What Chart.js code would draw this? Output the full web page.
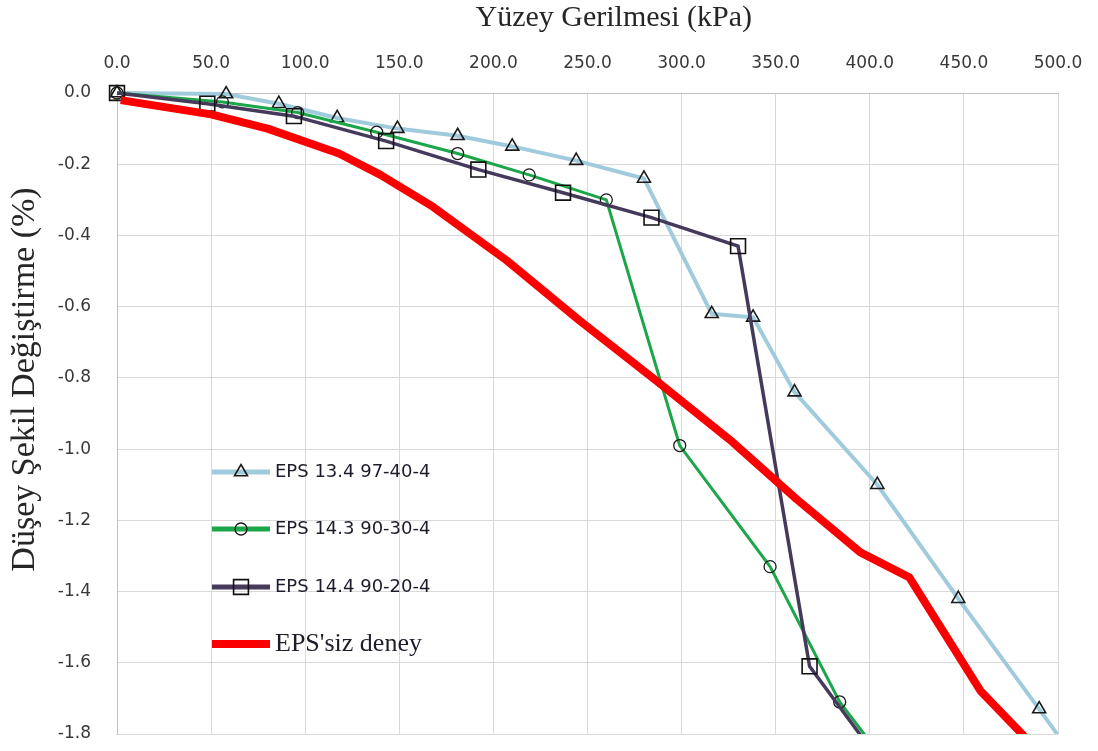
<!DOCTYPE html>
<html>
<head>
<meta charset="utf-8">
<script src="https://cdn.jsdelivr.net/npm/chart.js"></script>
<style>
  html, body { margin: 0; padding: 0; background: #fff; }
</style>
</head>
<body>
<canvas id="myChart" width="1098" height="751"></canvas>
<script>
// Yüzey gerilmesi (kPa) vs. düşey şekil değiştirme (%)

const xTitle = 'Yüzey Gerilmesi (kPa)';
const yTitle = 'Düşey Şekil Değiştirme (%)';

const seriesNames = ['EPS 13.4 97-40-4', 'EPS 14.3 90-30-4', 'EPS 14.4 90-20-4', "EPS'siz deney"];

// EPS 13.4 97-40-4 (triangles)
const triStress = [0, 58, 86, 117, 149, 181, 210, 244, 280, 316, 338, 360, 404, 447, 490, 505];
const triStrain = [0, -0.003, -0.03, -0.07, -0.10, -0.12, -0.15, -0.19, -0.24, -0.62, -0.63, -0.84, -1.10, -1.42, -1.73, -1.84];

// EPS 14.3 90-30-4 (circles)
const circStress = [0, 56, 96, 138, 181, 219, 260, 299, 347, 384, 420];
const circStrain = [0, -0.025, -0.055, -0.11, -0.17, -0.23, -0.30, -0.99, -1.33, -1.71, -1.96];

// EPS 14.4 90-20-4 (squares)
const sqStress = [0, 48, 94, 143, 192, 237, 284, 330, 368, 410];
const sqStrain = [0, -0.03, -0.065, -0.135, -0.215, -0.28, -0.35, -0.43, -1.61, -1.91];

// EPS'siz deney (no markers)
const refStress = [2, 50, 80, 118, 140, 168, 207, 246, 287, 327, 361, 395, 421, 459, 490];
const refStrain = [-0.02, -0.06, -0.10, -0.17, -0.23, -0.32, -0.47, -0.64, -0.81, -0.98, -1.14, -1.29, -1.36, -1.68, -1.85];

const pairs = (xs, ys) => xs.map((x, i) => ({ x: x, y: ys[i] }));

const sansFont = "'DejaVu Sans', sans-serif";
const serifFont = "'Liberation Serif', 'Times New Roman', serif";

// legend drawn inside the plot, on the left
const legendInside = {
  id: 'legendInside',
  afterDatasetsDraw: (chart) => {
    const ctx = chart.ctx;
    const lineX0 = 212, lineX1 = 270, textX = 275;
    const rowsY = [472, 529, 587, 644];
    chart.data.datasets.forEach((ds, i) => {
      const y = rowsY[i];
      ctx.save();
      ctx.strokeStyle = ds.borderColor;
      ctx.lineWidth = ds.legendLineWidth;
      ctx.lineCap = 'butt';
      ctx.beginPath();
      ctx.moveTo(lineX0, y);
      ctx.lineTo(lineX1, y);
      ctx.stroke();

      if (ds.pointRadius > 0 && Chart.helpers && Chart.helpers.drawPoint) {
        ctx.fillStyle = 'rgba(0,0,0,0)';
        ctx.strokeStyle = ds.pointBorderColor;
        ctx.lineWidth = ds.pointBorderWidth;
        Chart.helpers.drawPoint(ctx, {
          pointStyle: ds.pointStyle,
          radius: ds.pointRadius,
          borderWidth: ds.pointBorderWidth,
          rotation: 0
        }, (lineX0 + lineX1) / 2, y);
      }

      ctx.font = ds.legendFont;
      ctx.fillStyle = '#1e1b2b';
      ctx.textBaseline = 'middle';
      ctx.textAlign = 'left';
      ctx.fillText(ds.label, textX, y);
      ctx.restore();
    });
  }
};

const ctx = document.getElementById('myChart').getContext('2d');

const myChart = new Chart(ctx, {
  type: 'scatter',
  data: {
    datasets: [
      {
        label: seriesNames[0],
        data: pairs(triStress, triStrain),
        showLine: true,
        borderColor: 'rgb(160,203,220)',
        borderWidth: 4,
        legendLineWidth: 5,
        legendFont: '18px ' + sansFont,
        pointStyle: 'triangle',
        pointRadius: 7.5,
        pointBorderColor: '#1a1a1a',
        pointBackgroundColor: 'rgba(0,0,0,0)',
        pointBorderWidth: 1.6,
        order: 3
      },
      {
        label: seriesNames[1],
        data: pairs(circStress, circStrain),
        showLine: true,
        borderColor: 'rgb(28,166,74)',
        borderWidth: 3,
        legendLineWidth: 5,
        legendFont: '18px ' + sansFont,
        pointStyle: 'circle',
        pointRadius: 6,
        pointBorderColor: '#1a1a1a',
        pointBackgroundColor: 'rgba(0,0,0,0)',
        pointBorderWidth: 1.3,
        order: 2
      },
      {
        label: seriesNames[2],
        data: pairs(sqStress, sqStrain),
        showLine: true,
        borderColor: 'rgb(70,58,92)',
        borderWidth: 3.5,
        legendLineWidth: 5,
        legendFont: '18px ' + sansFont,
        pointStyle: 'rect',
        pointRadius: 10.5,
        pointBorderColor: '#111',
        pointBackgroundColor: 'rgba(0,0,0,0)',
        pointBorderWidth: 1.6,
        order: 1
      },
      {
        label: seriesNames[3],
        data: pairs(refStress, refStrain),
        showLine: true,
        borderColor: 'rgb(250,0,0)',
        borderWidth: 8,
        borderJoinStyle: 'round',
        legendLineWidth: 8,
        legendFont: '26px ' + serifFont,
        pointRadius: 0,
        order: 0
      }
    ]
  },
  options: {
    responsive: false,
    animation: false,
    clip: { left: 14, top: 14, right: 1, bottom: 0 },
    layout: { padding: { left: 0, right: 40, top: 0, bottom: 17 } },
    plugins: {
      legend: { display: false },
      tooltip: { enabled: false }
    },
    elements: { line: { tension: 0 } },
    scales: {
      x: {
        type: 'linear',
        position: 'top',
        min: 0,
        max: 500,
        afterFit: (scale) => {
          scale.height = 93;
          scale.paddingLeft = 0;
          scale.paddingRight = 0;
        },
        grid: { color: '#d9d9d9', drawTicks: false },
        border: { color: '#bfbfbf' },
        ticks: {
          stepSize: 50,
          padding: 19,
          color: '#383838',
          font: { family: sansFont, size: 17 },
          callback: (v) => Number(v).toFixed(1)
        },
        title: {
          display: true,
          text: '\u00a0\u00a0\u00a0\u00a0\u00a0\u00a0\u00a0' + xTitle,
          color: '#262626',
          font: { family: serifFont, size: 30 },
          padding: { top: 0, bottom: 0 }
        }
      },
      y: {
        type: 'linear',
        min: -1.8,
        max: 0,
        afterFit: (scale) => {
          scale.width = 117;
          scale.paddingTop = 0;
          scale.paddingBottom = 0;
        },
        grid: { color: '#d9d9d9', drawTicks: false },
        border: { color: '#bfbfbf' },
        ticks: {
          stepSize: 0.2,
          padding: 26,
          color: '#383838',
          font: { family: sansFont, size: 17 },
          callback: (v) => Number(v).toFixed(1)
        },
        title: {
          display: true,
          text: '\u00a0\u00a0\u00a0\u00a0\u00a0\u00a0\u00a0\u00a0' + yTitle,
          color: '#262626',
          font: { family: serifFont, size: 34 },
          padding: { top: 5, bottom: 0 }
        }
      }
    }
  },
  plugins: [legendInside]
});
</script>
</body>
</html>
